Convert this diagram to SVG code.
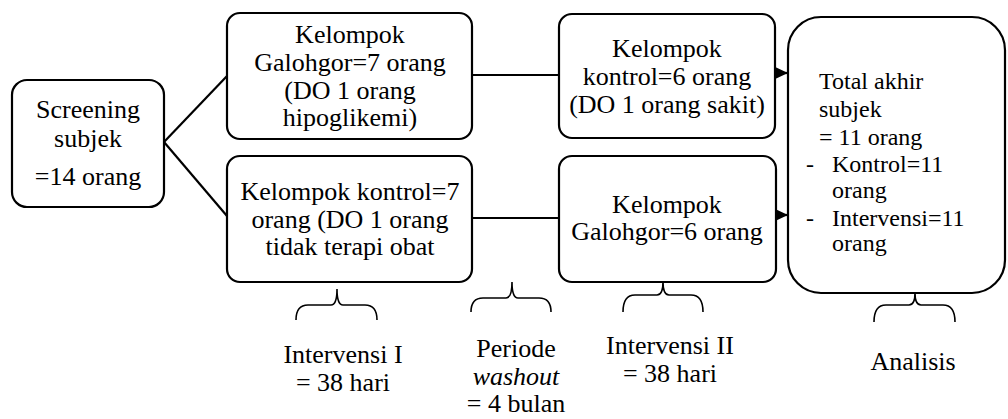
<svg xmlns="http://www.w3.org/2000/svg" width="1008" height="419" viewBox="0 0 1008 419" font-family="Liberation Serif, Tinos, DejaVu Serif, serif">
<style>
.box{fill:#fff;stroke:#000;stroke-width:2.2}
.t{font-family:"Liberation Serif", Tinos, "DejaVu Serif", serif;font-size:26px;fill:#000;text-anchor:middle}
.tl{font-family:"Liberation Serif", Tinos, "DejaVu Serif", serif;font-size:24px;fill:#000}
.ln{fill:none;stroke:#000;stroke-width:2.2}
.br{fill:none;stroke:#000;stroke-width:1.6}
</style>
<defs>
<marker id="ah" markerWidth="16" markerHeight="16" refX="15" refY="7" orient="auto" markerUnits="userSpaceOnUse">
<path d="M0,0 L15,7 L0,14 Z" fill="#000"/>
</marker>
</defs>
<rect width="1008" height="419" fill="#fff"/>
<g id="connectors">
<line class="ln" x1="164" y1="142" x2="227" y2="76"/>
<line class="ln" x1="164" y1="142" x2="227" y2="216"/>
<line class="ln" x1="472" y1="75" x2="559" y2="75"/>
<line class="ln" x1="472" y1="218" x2="559" y2="218"/>
<line class="ln" x1="775" y1="73" x2="788" y2="73" marker-end="url(#ah)"/>
<line class="ln" x1="775" y1="215" x2="788" y2="215" marker-end="url(#ah)"/>
</g>
<g id="screening">
<rect class="box" x="12" y="80" width="152" height="127" rx="15"/>
<text class="t" x="88" y="118">Screening</text>
<text class="t" x="88" y="147">subjek</text>
<text class="t" x="88" y="185">=14 orang</text>
</g>
<g id="galohgor7">
<rect class="box" x="227" y="13" width="245" height="126" rx="13"/>
<text class="t" x="350" y="43">Kelompok</text>
<text class="t" x="350" y="71">Galohgor=7 orang</text>
<text class="t" x="350" y="99">(DO 1 orang</text>
<text class="t" x="350" y="126">hipoglikemi)</text>
</g>
<g id="kontrol7">
<rect class="box" x="227" y="156" width="245" height="126" rx="13"/>
<text class="t" x="350" y="200">Kelompok kontrol=7</text>
<text class="t" x="350" y="228">orang (DO 1 orang</text>
<text class="t" x="350" y="255">tidak terapi obat</text>
</g>
<g id="kontrol6">
<rect class="box" x="559" y="14" width="216" height="124" rx="13"/>
<text class="t" x="667" y="57">Kelompok</text>
<text class="t" x="667" y="85">kontrol=6 orang</text>
<text class="t" x="667" y="113">(DO 1 orang sakit)</text>
</g>
<g id="galohgor6">
<rect class="box" x="559" y="156" width="217" height="126" rx="13"/>
<text class="t" x="667" y="213">Kelompok</text>
<text class="t" x="667" y="240">Galohgor=6 orang</text>
</g>
<g id="total">
<rect class="box" x="788" y="17" width="217" height="276" rx="33"/>
<text class="tl" x="819" y="89">Total akhir</text>
<text class="tl" x="819" y="117">subjek</text>
<text class="tl" x="819" y="145">= 11 orang</text>
<text class="tl" x="806" y="172">-</text>
<text class="tl" x="832" y="172">Kontrol=11</text>
<text class="tl" x="832" y="198">orang</text>
<text class="tl" x="806" y="226">-</text>
<text class="tl" x="832" y="226">Intervensi=11</text>
<text class="tl" x="832" y="251">orang</text>
</g>
<g id="brackets">
<path class="br" d="M296,320 Q296,305 308,305 L331,305 Q337,305 337,289 Q337,305 343,305 L365,305 Q377,305 377,320"/>
<path class="br" d="M471,312 Q471,298 483,298 L506,298 Q512,298 512,282 Q512,298 518,298 L539,298 Q551,298 551,312"/>
<path class="br" d="M623,312 Q623,295 635,295 L657,295 Q663,295 663,282 Q663,295 669,295 L691,295 Q703,295 703,312"/>
<path class="br" d="M874,322 Q874,305 886,305 L909,305 Q915,305 915,293 Q915,305 921,305 L943,305 Q955,305 955,322"/>
</g>
<g id="labels">
<text class="t" x="343" y="363">Intervensi I</text>
<text class="t" x="343" y="391">= 38 hari</text>
<text class="t" x="516" y="357">Periode</text>
<text class="t" x="516" y="385" font-style="italic">washout</text>
<text class="t" x="516" y="412">= 4 bulan</text>
<text class="t" x="670" y="354">Intervensi II</text>
<text class="t" x="670" y="382">= 38 hari</text>
<text class="t" x="913" y="370">Analisis</text>
</g>
</svg>
